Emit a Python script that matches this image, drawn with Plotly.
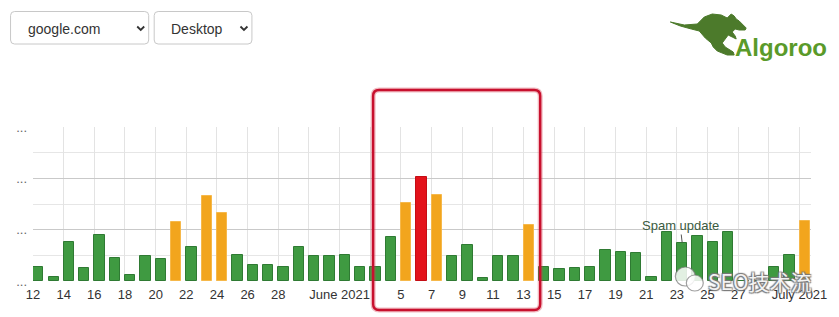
import pandas as pd
import plotly.graph_objects as go

# ---------------- data ----------------
start_date = "2021-05-12"
end_date = "2021-07-01"
values = [
    0.27, 0.08, 0.76, 0.25, 0.90, 0.45, 0.11, 0.48, 0.43, 1.15,   # May 12-21
    0.67, 1.66, 1.32, 0.51, 0.32, 0.32, 0.28, 0.67, 0.48, 0.48,   # May 22-31
    0.51, 0.27, 0.27, 0.85, 1.52, 2.03, 1.68, 0.48, 0.70, 0.06,   # Jun 1-10
    0.48, 0.48, 1.09, 0.27, 0.23, 0.25, 0.27, 0.60, 0.57, 0.55,   # Jun 11-20
    0.08, 0.95, 0.75, 0.88, 0.76, 0.96, 0.00, 0.00, 0.28, 0.51,   # Jun 21-30
    1.16,                                                         # Jul 1
]
tick_labels = ["12", "14", "16", "18", "20", "22", "24", "26", "28", "",
               "June 2021", "", "5", "7", "9", "11", "13", "15", "17", "19",
               "21", "23", "25", "27", "", "July 2021"]
y_tick_labels = ["...", "...", "...", "..."]
annotation_date = "2021-06-23"
annotation_text = "Spam update"
dropdown_labels = ["google.com", "Desktop"]
logo_text = "Algoroo"
watermark_text = "SEO技术流"

# ---------------- derived ----------------
dates = pd.date_range(start_date, end_date, freq="D")
tick_dates = pd.date_range(start_date, end_date, freq="2D")
DAY_MS = 86400000
bar_shift = pd.Timedelta(hours=8.3)

GREEN, GREEN_LINE = "#3f9a41", "#2f7a33"
ORANGE, ORANGE_LINE = "#f2a51d", "#f6b84a"
RED, RED_LINE = "#e3121b", "#c40d15"


def level_color(v):
    if v >= 2:
        return RED, RED_LINE
    if v >= 1:
        return ORANGE, ORANGE_LINE
    return GREEN, GREEN_LINE


fills = [level_color(v)[0] for v in values]
lines = [level_color(v)[1] for v in values]

W, H = 839, 317
L, R, T, B = 33, 26, 127, 36
PW, PH = W - L - R, H - T - B


def px(x):
    return (x - L) / PW


def py(y):
    return (H - B - y) / PH


fig = go.Figure()
fig.add_trace(go.Bar(
    x=dates + bar_shift, y=values,
    width=0.67 * DAY_MS,
    marker=dict(color=fills, line=dict(color=lines, width=1)),
    hoverinfo="skip",
))

fig.update_layout(
    width=W, height=H,
    margin=dict(l=L, r=R, t=T, b=B, pad=0),
    plot_bgcolor="white", paper_bgcolor="white",
    showlegend=False,
    bargap=0,
    font=dict(family="Liberation Sans, Arial, sans-serif", size=13, color="#333"),
)
fig.update_xaxes(
    type="date",
    range=[pd.Timestamp(start_date), pd.Timestamp(end_date) + pd.Timedelta(hours=18)],
    tickvals=list(tick_dates), ticktext=tick_labels,
    tickangle=0,
    showgrid=True, gridcolor="#e3e3e3", gridwidth=1,
    zeroline=False, showline=False,
    ticks="", ticklabelstandoff=4,
    tickfont=dict(size=13, color="#333"),
    fixedrange=True,
)
fig.update_yaxes(
    range=[0, 3],
    tickvals=[0, 1, 2, 3], ticktext=y_tick_labels,
    showgrid=True, gridcolor="#c9c9c9", gridwidth=1,
    minor=dict(tickvals=[0.5, 1.5, 2.5], showgrid=True, gridcolor="#e6e6e6", gridwidth=1),
    zeroline=False, showline=False,
    ticks="", ticklabelstandoff=5,
    tickfont=dict(size=13, color="#666"),
    fixedrange=True,
)

shapes = []
annotations = []


def rounded_rect(x0, y0, x1, y1, r):
    rx, ry = r / PW, r / PH
    a0, a1 = px(x0), px(x1)
    b0, b1 = py(y0), py(y1)  # b0 is top (larger)
    return (f"M {a0+rx},{b0} L {a1-rx},{b0} Q {a1},{b0} {a1},{b0-ry} "
            f"L {a1},{b1+ry} Q {a1},{b1} {a1-rx},{b1} L {a0+rx},{b1} "
            f"Q {a0},{b1} {a0},{b1+ry} L {a0},{b0-ry} Q {a0},{b0} {a0+rx},{b0} Z")


def poly(points, close=True):
    s = "M " + " L ".join(f"{px(x)},{py(y)}" for x, y in points)
    return s + (" Z" if close else "")


# dropdown boxes
boxes = [(10.5, 11.5, 149, 44), (154.5, 11.5, 252.5, 44)]
text_x = [64, 197]
chevron_x = [141, 244.5]
for (x0, y0, x1, y1), lbl, tx, cx in zip(boxes, dropdown_labels, text_x, chevron_x):
    shapes.append(dict(type="path", xref="paper", yref="paper",
                       path=rounded_rect(x0, y0, x1, y1, 4),
                       line=dict(color="#c8c8c8", width=1), fillcolor="white", layer="above"))
    annotations.append(dict(xref="paper", yref="paper", x=px(tx), y=py(28.5),
                            text=lbl, showarrow=False, xanchor="center", yanchor="middle",
                            font=dict(size=14, color="#333", family="Liberation Sans, Arial")))
    shapes.append(dict(type="path", xref="paper", yref="paper",
                       path=poly([(cx - 3.5, 26.5), (cx, 30), (cx + 3.5, 26.5)], close=False),
                       line=dict(color="#333", width=1.8), layer="above"))

# red highlight rectangle
shapes.append(dict(type="path", xref="paper", yref="paper",
                   path=rounded_rect(374, 90, 541.5, 310, 6),
                   line=dict(color="rgba(215,60,80,0.35)", width=5), layer="above"))
shapes.append(dict(type="path", xref="paper", yref="paper",
                   path=rounded_rect(374, 90, 541.5, 310, 6),
                   line=dict(color="#c8102e", width=2.4), layer="above"))

# kangaroo silhouette
kangaroo = [(672, 22), (686, 25), (699, 24), (706, 17), (714, 14), (723, 15), (729, 18),
            (733, 14), (736, 16), (738, 19), (741, 21), (748, 28), (747, 30), (741, 30),
            (737, 29), (734, 32), (737, 36), (738, 39), (734, 37), (730, 35), (727, 39),
            (724, 43), (727, 47), (735, 52), (736, 55), (729, 55), (719, 51), (715, 47),
            (713, 43), (707, 38), (701, 31), (693, 29), (682, 26)]
shapes.append(dict(type="path", xref="paper", yref="paper", path=poly(kangaroo),
                   line=dict(color="#4c7a2b", width=1), fillcolor="#4c7a2b", layer="above"))
annotations.append(dict(xref="paper", yref="paper", x=px(783), y=py(47),
                        text=f"<b>{logo_text}</b>", showarrow=False,
                        xanchor="center", yanchor="middle",
                        font=dict(size=24, color="#5a9a2a", family="Liberation Sans, Arial")))

# spam update annotation
annotations.append(dict(x=pd.Timestamp(annotation_date) + bar_shift,
                        y=values[(pd.Timestamp(annotation_date) - pd.Timestamp(start_date)).days],
                        xref="x", yref="y", text=annotation_text,
                        showarrow=True, arrowhead=0, arrowwidth=1, arrowcolor="#555",
                        ax=-2, ay=-17,
                        font=dict(size=13, color="#3b5b3f", family="Liberation Sans, Arial")))

# watermark
shapes.append(dict(type="circle", xref="paper", yref="paper",
                   x0=px(677), x1=px(697), y0=py(267), y1=py(286),
                   line=dict(color="rgba(120,120,120,0.7)", width=1.2),
                   fillcolor="rgba(255,255,255,0.85)", layer="above"))
shapes.append(dict(type="circle", xref="paper", yref="paper",
                   x0=px(688), x1=px(705), y0=py(275), y1=py(291),
                   line=dict(color="rgba(120,120,120,0.7)", width=1.2),
                   fillcolor="rgba(255,255,255,0.85)", layer="above"))
annotations.append(dict(xref="paper", yref="paper", x=px(761), y=py(281),
                        text=watermark_text, showarrow=False,
                        xanchor="center", yanchor="middle",
                        font=dict(size=21, color="rgba(255,255,255,0.92)",
                                  family="Noto Sans CJK SC, sans-serif",
                                  shadow="1px 1px 1px #777, -1px -1px 1px #777, 1px -1px 1px #777, -1px 1px 1px #777")))

fig.update_layout(shapes=shapes, annotations=annotations)
fig.write_html("out.html")
